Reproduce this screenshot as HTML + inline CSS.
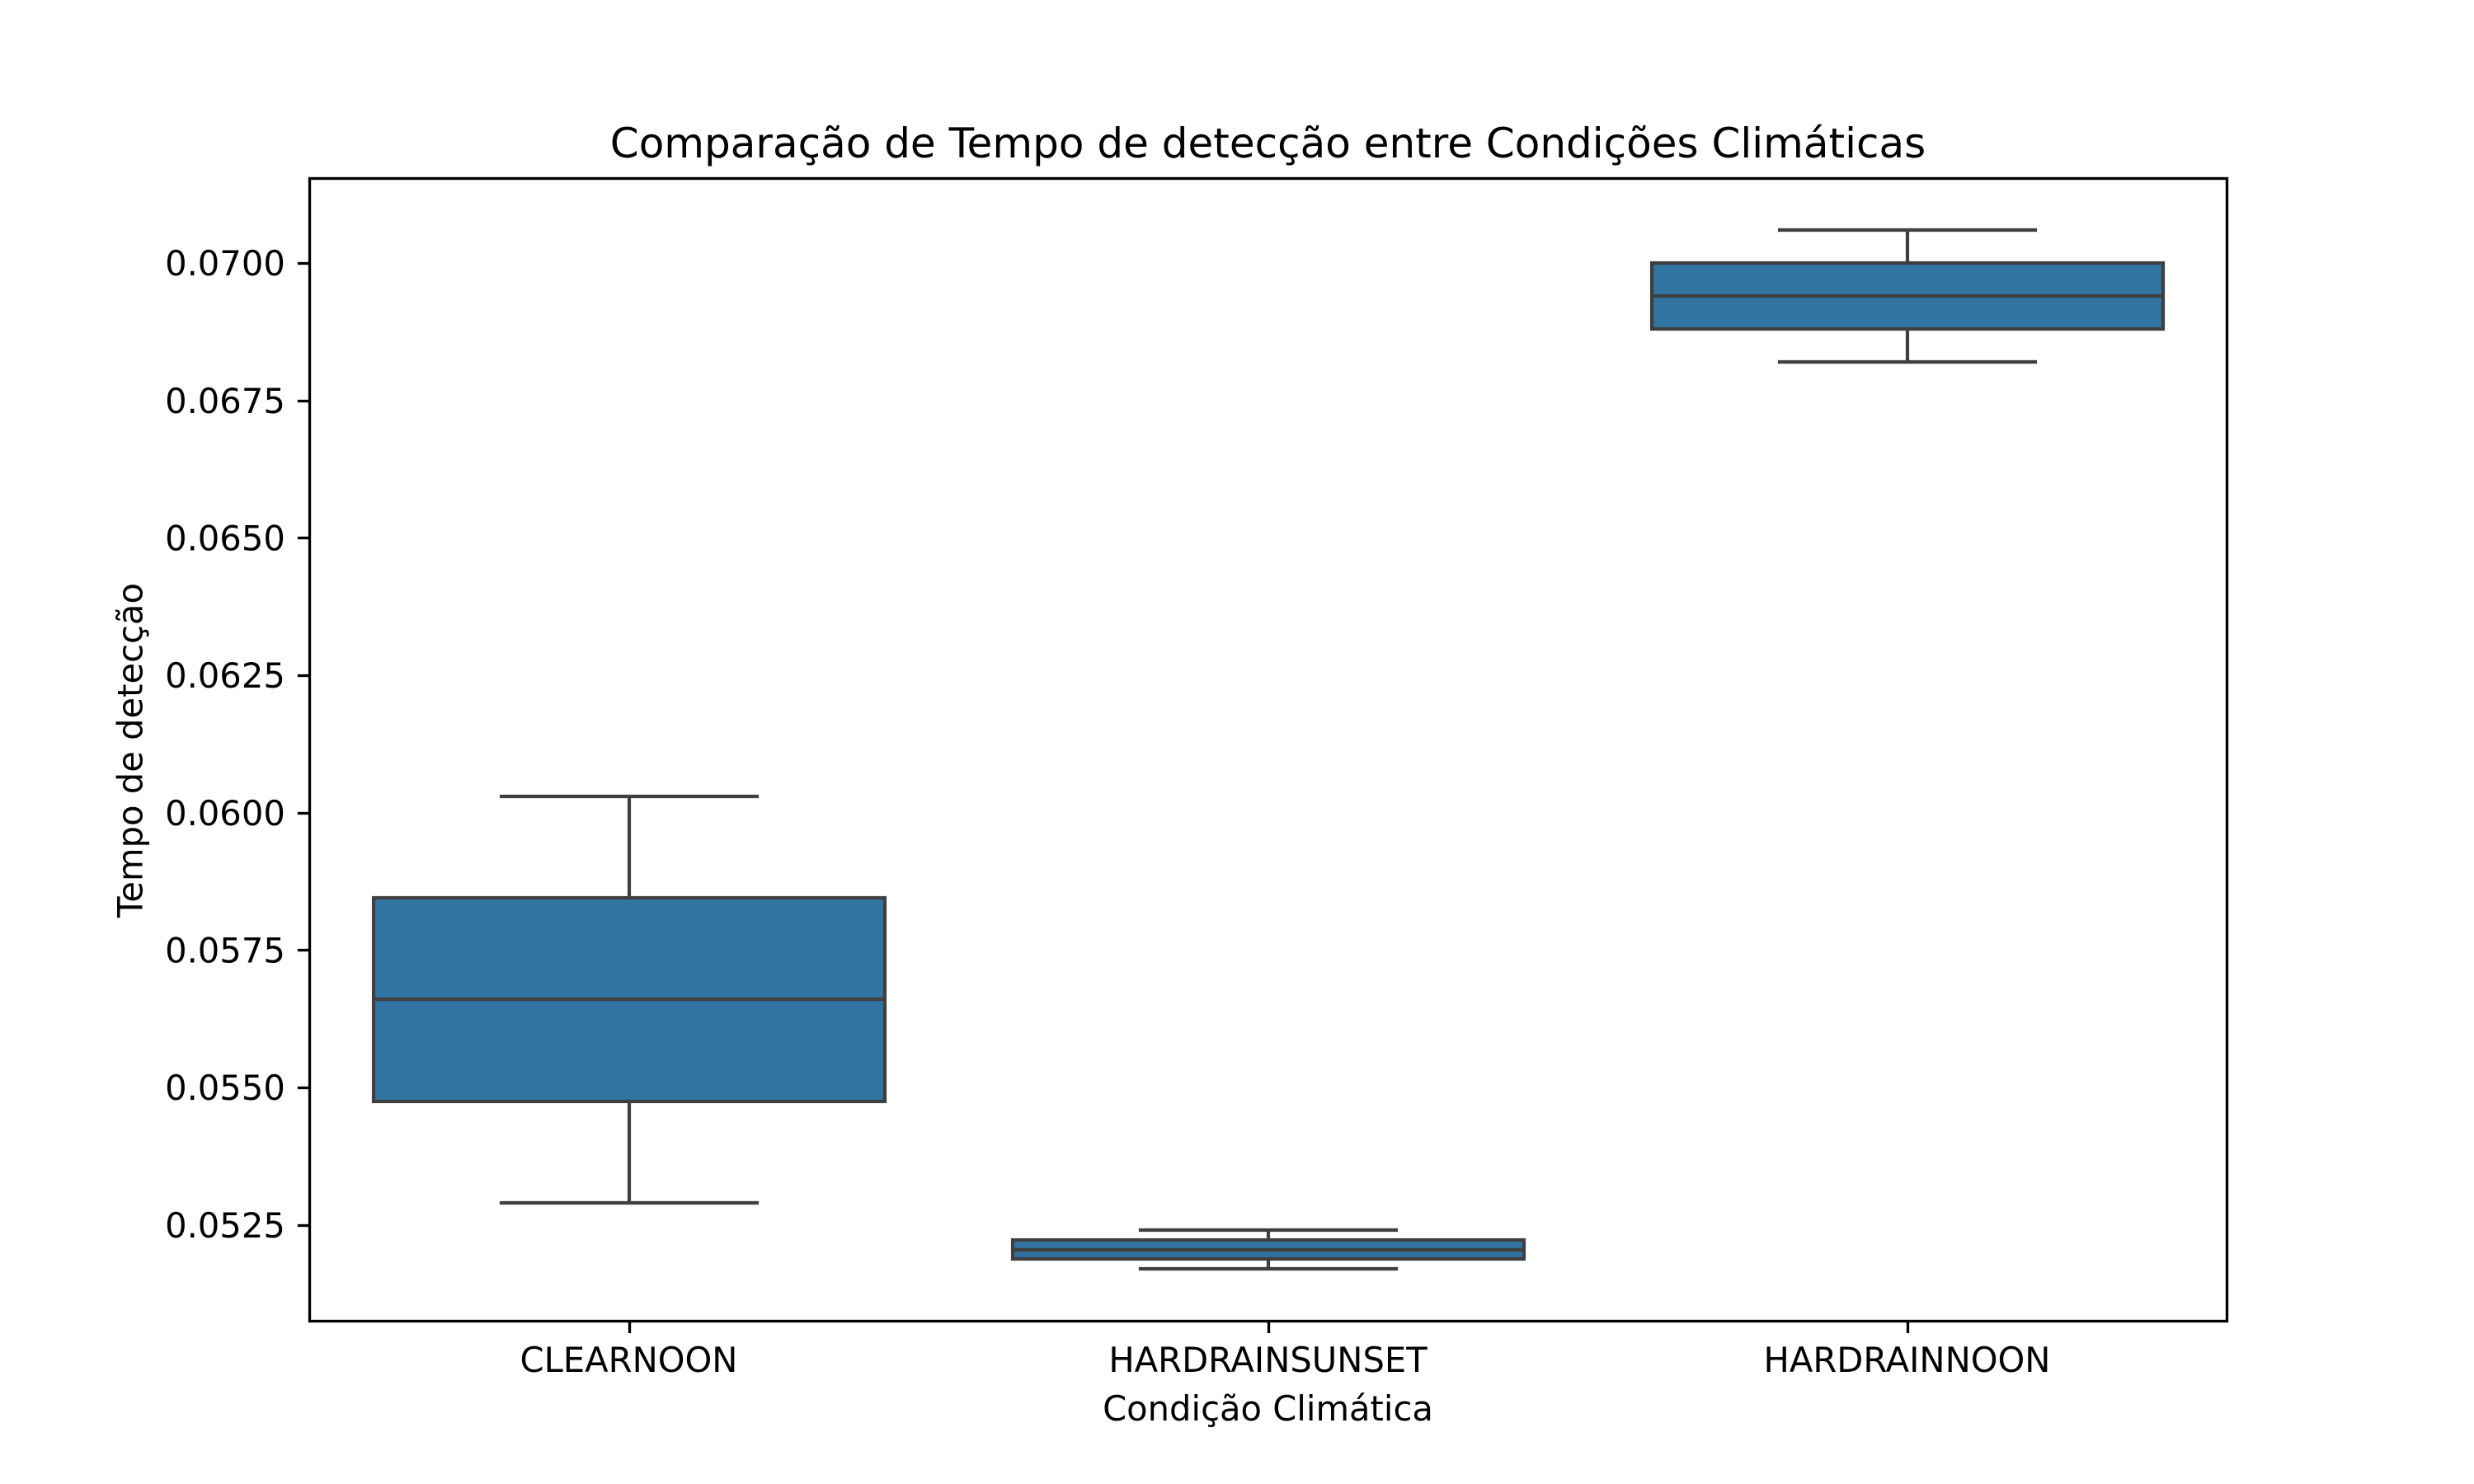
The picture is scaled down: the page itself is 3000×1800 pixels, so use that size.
<!DOCTYPE html>
<html lang="pt">
<head>
<meta charset="utf-8">
<title>Comparação de Tempo de detecção entre Condições Climáticas</title>
<style>
html,body{margin:0;padding:0;background:#fff;}
svg{display:block;}
text{font-family:"DejaVu Sans",sans-serif;fill:#000;}
</style>
</head>
<body>
<svg id="chart" xmlns="http://www.w3.org/2000/svg" width="3000" height="1800" viewBox="0 0 3000 1800">
  <rect x="0" y="0" width="3000" height="1800" fill="#ffffff"/>
  <rect x="375" y="216" width="2325" height="1386" fill="#ffffff"/>
  <g id="marks"></g>
  <g id="x-axis"></g>
  <g id="y-axis"></g>
  <rect x="375.5" y="216.5" width="2325" height="1386" fill="none" stroke="#000" stroke-width="3.33"/>
  <text x="1537.5" y="191" font-size="50" text-anchor="middle">Comparação de Tempo de detecção entre Condições Climáticas</text>
  <text x="1537.5" y="1723" font-size="41.67" text-anchor="middle">Condição Climática</text>
  <text transform="translate(172.5 910) rotate(-90)" font-size="41.67" text-anchor="middle">Tempo de detecção</text>
</svg>
<script>
const categories = ["CLEARNOON", "HARDRAINSUNSET", "HARDRAINNOON"];
const whiskerHigh = [0.0603, 0.05241, 0.0706];
const q3Values = [0.05845, 0.05222, 0.0700];
const medianValues = [0.0566, 0.05204, 0.0694];
const q1Values = [0.05475, 0.05188, 0.0688];
const whiskerLow = [0.0529, 0.0517, 0.0682];
const yTickValues = [0.0525, 0.0550, 0.0575, 0.0600, 0.0625, 0.0650, 0.0675, 0.0700];
const yTickLabels = ["0.0525", "0.0550", "0.0575", "0.0600", "0.0625", "0.0650", "0.0675", "0.0700"];

const NS = "http://www.w3.org/2000/svg";
const plotLeft = 375, plotRight = 2700, plotTop = 216, plotBottom = 1602;
const yDomainMin = 0.050755, yDomainMax = 0.071545;
const edgeColor = "#3f3f3f", boxFill = "#3274a1", markWidth = 4.17;

function snap(v) {
  return Math.round(Number(v.toFixed(3)));
}
function xScale(position) {
  return plotLeft + (position + 0.5) / categories.length * (plotRight - plotLeft);
}
function yScale(value) {
  return plotBottom - (value - yDomainMin) / (yDomainMax - yDomainMin) * (plotBottom - plotTop);
}
function addLine(parent, x1, y1, x2, y2, color, width) {
  const el = document.createElementNS(NS, "line");
  el.setAttribute("x1", x1);
  el.setAttribute("y1", y1);
  el.setAttribute("x2", x2);
  el.setAttribute("y2", y2);
  el.setAttribute("stroke", color);
  el.setAttribute("stroke-width", width);
  parent.appendChild(el);
  return el;
}

const marks = document.getElementById("marks");
const xAxis = document.getElementById("x-axis");
const yAxis = document.getElementById("y-axis");

categories.forEach(function (category, i) {
  const cx = snap(xScale(i));
  const boxLeft = snap(xScale(i - 0.4));
  const boxRight = snap(xScale(i + 0.4));
  const capLeft = snap(xScale(i - 0.2));
  const capRight = snap(xScale(i + 0.2));
  const yHigh = snap(yScale(whiskerHigh[i]));
  const yQ3 = snap(yScale(q3Values[i]));
  const yMedian = snap(yScale(medianValues[i]));
  const yQ1 = snap(yScale(q1Values[i]));
  const yLow = snap(yScale(whiskerLow[i]));
  const slug = category.toLowerCase();

  const group = document.createElementNS(NS, "g");
  
  
  marks.appendChild(group);

  const upperWhisker = addLine(group, cx, yHigh, cx, yQ3, edgeColor, markWidth);
  
  

  const lowerWhisker = addLine(group, cx, yQ1, cx, yLow, edgeColor, markWidth);
  
  

  const upperCap = addLine(group, capLeft, yHigh, capRight, yHigh, edgeColor, markWidth);
  upperCap.setAttribute("stroke-linecap", "square");
  
  

  const lowerCap = addLine(group, capLeft, yLow, capRight, yLow, edgeColor, markWidth);
  lowerCap.setAttribute("stroke-linecap", "square");
  
  

  const box = document.createElementNS(NS, "rect");
  box.setAttribute("x", boxLeft);
  box.setAttribute("y", yQ3);
  box.setAttribute("width", boxRight - boxLeft);
  box.setAttribute("height", yQ1 - yQ3);
  box.setAttribute("fill", boxFill);
  box.setAttribute("stroke", edgeColor);
  box.setAttribute("stroke-width", markWidth);
  
  
  group.appendChild(box);

  const median = addLine(group, boxLeft, yMedian, boxRight, yMedian, edgeColor, markWidth);
  
  

  const tick = addLine(xAxis, cx + 0.5, plotBottom + 0.5, cx + 0.5, plotBottom + 15, "#000", 3.33);
  
  

  const label = document.createElementNS(NS, "text");
  label.setAttribute("x", xScale(i));
  label.setAttribute("y", plotBottom + 62);
  label.setAttribute("font-size", "41.67");
  label.setAttribute("text-anchor", "middle");
  
  
  label.textContent = category;
  xAxis.appendChild(label);
});

yTickValues.forEach(function (value, i) {
  const y = yScale(value);
  const tickY = snap(y) + 0.5;

  const tick = addLine(yAxis, plotLeft - 14.1, tickY, plotLeft + 0.5, tickY, "#000", 3.33);
  
  

  const label = document.createElementNS(NS, "text");
  label.setAttribute("x", plotLeft - 29.17);
  label.setAttribute("y", y + 15.2);
  label.setAttribute("font-size", "41.67");
  label.setAttribute("text-anchor", "end");
  
  
  label.textContent = yTickLabels[i];
  yAxis.appendChild(label);
});
</script>
</body>
</html>
